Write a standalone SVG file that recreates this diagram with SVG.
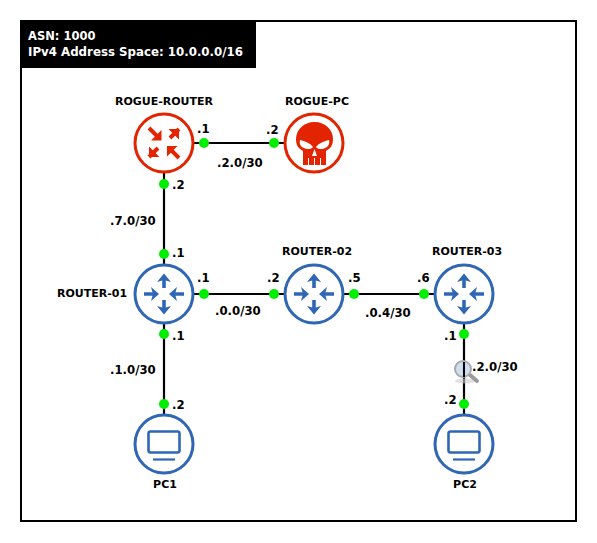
<svg xmlns="http://www.w3.org/2000/svg" width="597" height="543" viewBox="0 0 597 543">
<style>
text{font-family:"DejaVu Sans","Liberation Sans",sans-serif;font-weight:700;font-size:11px;fill:#000}
.hdr{fill:#fff;font-size:11.5px}
.lbl{font-size:11.7px}
.m{text-anchor:middle}
.ring{fill:#fff;stroke-width:3}
.blue .ring{stroke:#2f67b5}
.red .ring{stroke:#e32400}
.link{stroke:#000;stroke-width:2.2;fill:none}
.dot{fill:#00ee00}
.ab{stroke:#2f67b5;stroke-width:3.600;fill:none}
.ar{stroke:#e32400;stroke-width:4;fill:none}
.hb{fill:#2f67b5}
.hr{fill:#e32400}
</style>
<defs>
<g id="rtr">
<path class="ab" d="M0-6V-14M0 6V14M-20 0H-10M20 0H10"/>
<path class="hb" d="M0-20.500L7-12L0-14L-7-12zM0 20.500L7 12L0 14L-7 12zM-5 0L-13-7L-11 0L-13 7zM5 0L13-7L11 0L13 7z"/>
</g>
<g id="rogue">
<path class="ar" d="M-15-15L-6-6M15-14L6-5M-15 14L-6 5M15 15L6 6"/>
<path class="hr" d="M-2.500-2.500V-13L-13-2.500zM15-14H4.500L15-3.500zM-15 14V3.500L-4.500 14zM3 3H13.500L3 13.500z"/>
</g>
<g id="monitor">
<rect x="-15.500" y="-12.500" width="31" height="21" rx="2" fill="none" stroke="#2f67b5" stroke-width="2.600"/>
<path d="M-11 15.500H11" stroke="#2f67b5" stroke-width="2.200" fill="none"/>
</g>
</defs>
<rect width="597" height="543" fill="#fff"/>
<rect x="21" y="21" width="555" height="500" fill="#fff" stroke="#000" stroke-width="2"/>
<g id="info">
<rect x="20" y="20" width="236" height="48" fill="#000"/>
<text class="hdr" x="28" y="40">ASN: 1000</text>
<text class="hdr" x="28" y="56" textLength="215" lengthAdjust="spacingAndGlyphs">IPv4 Address Space: 10.0.0.0/16</text>
</g>
<g id="connectors">
<path class="link" d="M164 143H314M164 143V444M164 294H464M464 294V444"/>
<g class="dot">
<circle cx="204" cy="143" r="5"/><circle cx="274" cy="143" r="5"/>
<circle cx="164" cy="184" r="5"/><circle cx="164" cy="254" r="5"/>
<circle cx="204" cy="294" r="5"/><circle cx="274" cy="294" r="5"/>
<circle cx="354" cy="294" r="5"/><circle cx="424" cy="294" r="5"/>
<circle cx="164" cy="334" r="5"/><circle cx="164" cy="404" r="5"/>
<circle cx="464" cy="334" r="5"/><circle cx="464" cy="404" r="5"/>
</g>
<g class="lbls">
<text class="lbl" x="197" y="133">.1</text><text class="lbl" x="266" y="134">.2</text>
<text class="lbl" x="217" y="167">.2.0/30</text>
<text class="lbl" x="172" y="189">.2</text><text class="lbl" x="110" y="225">.7.0/30</text>
<text class="lbl" x="172" y="257">.1</text><text class="lbl" x="197" y="282">.1</text>
<text class="lbl" x="267" y="282">.2</text><text class="lbl" x="215" y="315">.0.0/30</text>
<text class="lbl" x="348" y="282">.5</text><text class="lbl" x="417" y="282">.6</text>
<text class="lbl" x="365" y="317">.0.4/30</text>
<text class="lbl" x="172" y="340">.1</text><text class="lbl" x="110" y="374">.1.0/30</text>
<text class="lbl" x="172" y="409">.2</text>
<text class="lbl" x="444" y="340">.1</text><text class="lbl" x="444" y="404">.2</text>
<text class="lbl" x="472" y="371">.2.0/30</text>
</g>
</g>
<g id="rogue-router" class="red">
<circle class="ring" cx="164" cy="143" r="29"/>
<use href="#rogue" x="164" y="143"/>
<text class="m" x="164" y="105">ROGUE-ROUTER</text>
</g>
<g id="rogue-pc" class="red">
<circle class="ring" cx="314" cy="143" r="29"/>
<path fill="#e32400" d="M314.500 122c-11 0-18.500 8-18.500 17c0 6 2 9 7 12v14h23v-14c5-3 7-6 7-12c0-9-7.500-17-18.500-17z"/>
<path fill="#fff" d="M300 140c5 1 10 3 13 7c-1 2-6 3-9 1c-3-1-5-4-4-8zM329 140c-5 1-10 3-13 7c1 2 6 3 9 1c3-1 5-4 4-8zM314.500 149l2.500 7h-5zM308 158h1v7h-1zM314 158h1v7h-1zM320 158h1v7h-1z"/>
<text class="m" x="317" y="105">ROGUE-PC</text>
</g>
<g id="router-01" class="blue">
<circle class="ring" cx="164" cy="294" r="29"/>
<use href="#rtr" x="164" y="294"/>
<text x="57" y="297">ROUTER-01</text>
</g>
<g id="router-02" class="blue">
<circle class="ring" cx="314" cy="294" r="29"/>
<use href="#rtr" x="314" y="294"/>
<text class="m" x="317" y="255">ROUTER-02</text>
</g>
<g id="router-03" class="blue">
<circle class="ring" cx="464" cy="294" r="29"/>
<use href="#rtr" x="464" y="294"/>
<text class="m" x="467" y="255">ROUTER-03</text>
</g>
<g id="pc1" class="blue">
<circle class="ring" cx="164" cy="444" r="29"/>
<use href="#monitor" x="164" y="444"/>
<text class="m" x="165" y="488">PC1</text>
</g>
<g id="pc2" class="blue">
<circle class="ring" cx="464" cy="444" r="29"/>
<use href="#monitor" x="464" y="444"/>
<text class="m" x="465" y="488">PC2</text>
</g>
<g id="magnifier">
<ellipse cx="465" cy="381" rx="10" ry="2.500" fill="#ccc" opacity=".6"/>
<path d="M470 375L477 381" stroke="#999" stroke-width="4" stroke-linecap="round"/>
<circle cx="463" cy="369" r="8" fill="#bcd3ea" fill-opacity=".7" stroke="#aaa" stroke-width="2"/>
<path d="M464 362V377" stroke="#000" stroke-width="2"/>
</g>
</svg>
